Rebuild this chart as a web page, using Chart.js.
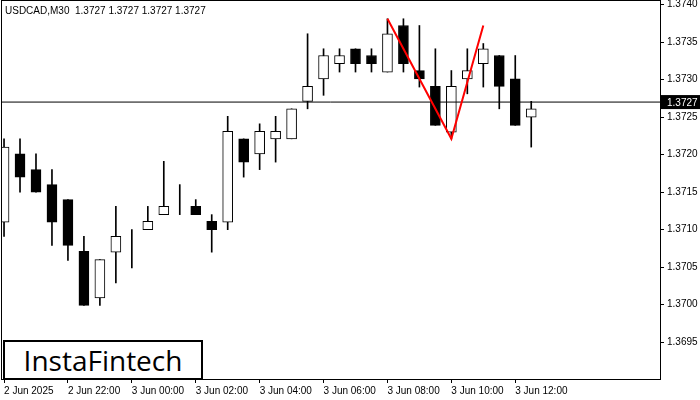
<!DOCTYPE html>
<html>
<head>
<meta charset="utf-8">
<script src="https://cdn.jsdelivr.net/npm/chart.js@4"></script>
<style>
  body { margin: 0; background: #fff; }
  #wrap { position: relative; width: 700px; height: 400px; }
  #title { position: absolute; left: 5px; top: 5px; font: 10px "Liberation Sans", Arial, sans-serif; color: #000; }
  #logo { position: absolute; left: 3px; top: 340px; width: 196px; height: 36px; border: 2px solid #000; background: #fff;
          font: 28px "Open Sans", "Liberation Sans", sans-serif; color: #000; display: flex; align-items: center; justify-content: center; }
</style>
</head>
<body>
<div id="wrap">
  <canvas id="chart" width="700" height="400"></canvas>
  <div id="title">USDCAD,M30&nbsp; 1.3727 1.3727 1.3727 1.3727</div>
  <div id="logo">InstaFintech</div>
</div>
<script>
// candles, M30, starting 2 Jun 2025 20:00
const opens  = [1.37110,1.37201,1.37180,1.37160,1.37140,1.37071,1.37009,1.37070,1.37100,1.37100,1.37120,1.37140,1.37131,1.37111,1.37110,1.37221,1.37201,1.37221,1.37221,1.37271,1.37301,1.37321,1.37341,1.37332,1.37310,1.37372,1.37312,1.37291,1.37230,1.37301,1.37321,1.37332,1.37301,1.37250];
const highs  = [1.37221,1.37221,1.37201,1.37180,1.37140,1.37091,1.37060,1.37131,1.37100,1.37131,1.37191,1.37160,1.37140,1.37120,1.37251,1.37221,1.37241,1.37251,1.37261,1.37361,1.37341,1.37341,1.37341,1.37341,1.37381,1.37381,1.37372,1.37341,1.37312,1.37341,1.37348,1.37332,1.37332,1.37271];
const lows   = [1.37091,1.37150,1.37150,1.37079,1.37059,1.36999,1.36999,1.37029,1.37049,1.37100,1.37120,1.37120,1.37120,1.37070,1.37100,1.37170,1.37180,1.37190,1.37221,1.37261,1.37279,1.37310,1.37310,1.37310,1.37310,1.37310,1.37290,1.37239,1.37221,1.37281,1.37290,1.37261,1.37239,1.37210];
const closes = [1.37210,1.37170,1.37150,1.37110,1.37079,1.36999,1.37060,1.37091,1.37100,1.37111,1.37131,1.37140,1.37120,1.37100,1.37231,1.37190,1.37231,1.37231,1.37261,1.37291,1.37332,1.37332,1.37321,1.37321,1.37361,1.37321,1.37301,1.37239,1.37291,1.37312,1.37341,1.37291,1.37239,1.37261];

// double top pattern (candle index, price)
const patternX = [24, 28, 30];
const patternY = [1.37381, 1.37221, 1.37372];

const currentPrice = 1.3727;
const yTicks = [1.3695, 1.3700, 1.3705, 1.3710, 1.3715, 1.3720, 1.3725, 1.3730, 1.3735, 1.3740];
const xTickIdx = [0, 4, 8, 12, 16, 20, 24, 28, 32];
const xTickLabels = ['2 Jun 2025', '2 Jun 22:00', '3 Jun 00:00', '3 Jun 02:00', '3 Jun 04:00', '3 Jun 06:00', '3 Jun 08:00', '3 Jun 10:00', '3 Jun 12:00'];

const X_MIN = -0.19, X_MAX = 41.06;
const Y_MIN = 1.36901, Y_MAX = 1.37406;

const bodies = opens.map((o, i) => ({ x: i, y: [o, closes[i]] }));
const wicks = highs.map((h, i) => ({ x: i, y: [lows[i], h] }));
const isUp = opens.map((o, i) => closes[i] >= o);
const font = { family: '"Liberation Sans", Arial, sans-serif', size: 10 };

// black price tag on the right axis + frame
const extras = {
    id: 'extras',
    afterDraw(chart) {
        const ctx = chart.ctx, a = chart.chartArea;
        const y = chart.scales.y.getPixelForValue(currentPrice);
        ctx.save();
        ctx.strokeStyle = '#000';
        ctx.lineWidth = 1;
        ctx.strokeRect(a.left + 0.5, a.top + 0.5, a.right - a.left, a.bottom - a.top);
        ctx.fillStyle = '#000';
        ctx.fillRect(a.right + 1, y - 7, 40, 14);
        ctx.fillStyle = '#fff';
        ctx.font = '10px "Liberation Sans", Arial, sans-serif';
        ctx.textBaseline = 'middle';
        ctx.fillText(currentPrice.toFixed(4), a.right + 7, y + 1);
        ctx.restore();
    }
};

new Chart(document.getElementById('chart'), {
    type: 'bar',
    data: {
        datasets: [
            {
                data: wicks, backgroundColor: '#000', barThickness: 1, order: 3, grouped: false
            },
            {
                data: bodies, grouped: false, order: 2, barThickness: 10,
                backgroundColor: isUp.map(u => u ? '#fff' : '#000'),
                borderColor: '#000', borderWidth: 1, borderSkipped: false
            },
            {
                type: 'line', data: [{ x: X_MIN, y: currentPrice }, { x: X_MAX, y: currentPrice }],
                borderColor: '#000', borderWidth: 1, pointRadius: 0, order: 1
            },
            {
                type: 'line', data: patternX.map((x, i) => ({ x: x, y: patternY[i] })),
                borderColor: '#ff0000', borderWidth: 2, pointRadius: 0, order: 0
            }
        ]
    },
    options: {
        responsive: false,
        animation: false,
        layout: { padding: { top: 0, left: 1 } },
        plugins: { legend: { display: false }, tooltip: { enabled: false } },
        scales: {
            x: {
                type: 'linear', min: X_MIN, max: X_MAX, offset: false, bounds: 'data',
                afterBuildTicks: s => { s.ticks = xTickIdx.map(v => ({ value: v })); },
                ticks: { align: 'start', maxRotation: 0, autoSkip: false, color: '#000', font: font, padding: 2,
                         callback: (v) => xTickLabels[xTickIdx.indexOf(v)] },
                grid: { drawOnChartArea: false, offset: false, tickLength: 4, tickColor: '#000' },
                border: { color: '#000' },
                afterFit: s => { s.height = 21; s.paddingLeft = 0; s.paddingRight = 0; }
            },
            y: {
                position: 'right', min: Y_MIN, max: Y_MAX,
                afterBuildTicks: s => { s.ticks = yTicks.map(v => ({ value: v })); },
                ticks: { color: '#000', font: font, padding: 3, callback: v => v.toFixed(4) },
                grid: { drawOnChartArea: false, tickLength: 4, tickColor: '#000' },
                border: { color: '#000' },
                afterFit: s => { s.width = 40; s.paddingTop = 0; s.paddingBottom = 0; }
            }
        }
    },
    plugins: [extras]
});
</script>
</body>
</html>
